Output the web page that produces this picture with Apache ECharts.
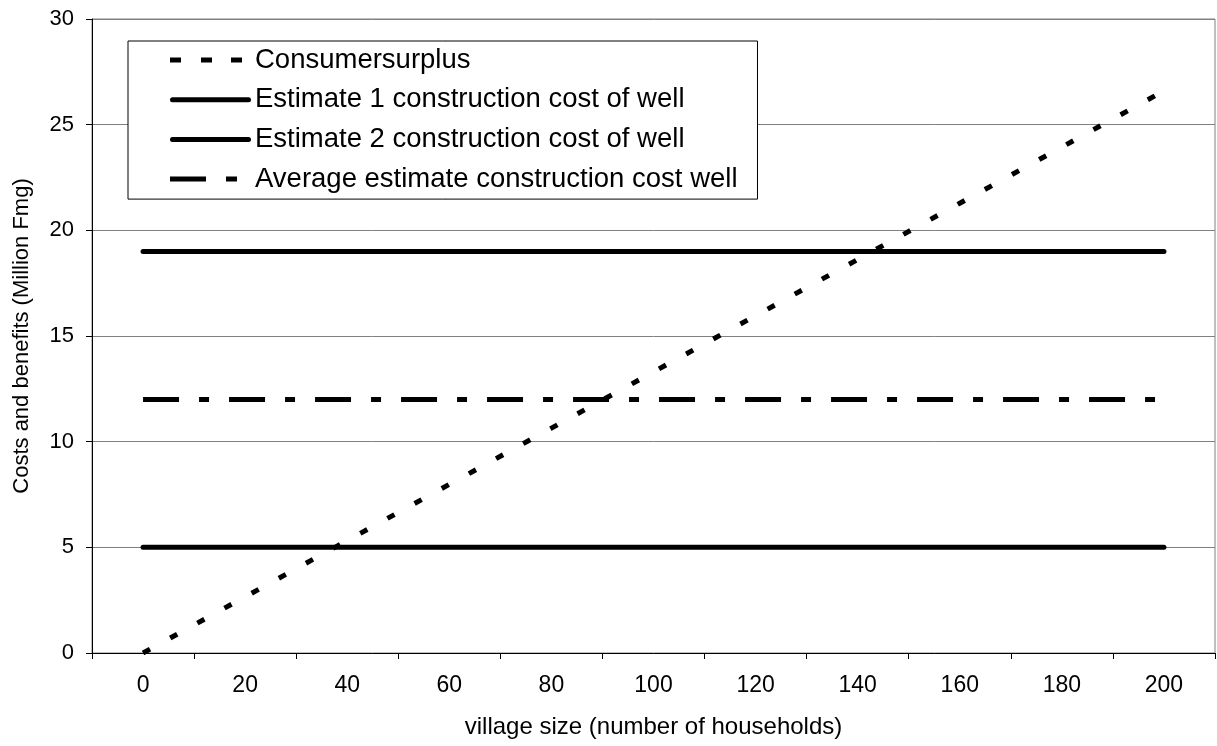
<!DOCTYPE html>
<html>
<head>
<meta charset="utf-8">
<script src="https://cdn.jsdelivr.net/npm/echarts@6/dist/echarts.min.js"></script>
<style>
html,body{margin:0;padding:0;background:#fff;}
#chart{width:1217px;height:746px;}
</style>
</head>
<body>
<div id="chart"></div>
<script>
var categories = ['0','20','40','60','80','100','120','140','160','180','200'];
var consumerSurplus = [0, 2.66, 5.32, 7.98, 10.64, 13.3, 15.96, 18.62, 21.28, 23.94, 26.6];
var estimate1 = [19, 19, 19, 19, 19, 19, 19, 19, 19, 19, 19];
var estimate2 = [5, 5, 5, 5, 5, 5, 5, 5, 5, 5, 5];
var averageEstimate = [12, 12, 12, 12, 12, 12, 12, 12, 12, 12, 12];
var seriesNames = ['Consumersurplus', 'Estimate 1 construction cost of well', 'Estimate 2 construction cost of well', 'Average estimate construction cost well'];
var xTitle = 'village size (number of households)';
var yTitle = 'Costs and benefits (Million Fmg)';

var FONT = "'Liberation Sans', Arial, sans-serif";
var chart = echarts.init(document.getElementById('chart'), null, {renderer: 'canvas'});

// legend icon shapes (81 x 5 box)
var iconDashed = 'path://M0,0h11v5h-11z M31,0h11v5h-11z M61,0h11v5h-11z M81,5';
var iconSolid = 'path://M2.5,0h76a2.5,2.5 0 0 1 0,5h-76a2.5,2.5 0 0 1 0,-5z M0,0 M81,5';
var iconDashDot = 'path://M0,0h36v5h-36z M56,0h11v5h-11z M81,5';

function lineSeries(name, data, lineStyle) {
  return {
    name: name,
    type: 'line',
    data: data,
    symbol: 'none',
    showSymbol: false,
    animation: false,
    lineStyle: lineStyle,
    itemStyle: {color: '#000'},
    emphasis: {disabled: true}
  };
}

chart.setOption({
  animation: false,
  backgroundColor: '#fff',
  textStyle: {fontFamily: FONT, color: '#000'},
  grid: {left: 92, top: 19, right: 2, bottom: 93, show: true, borderColor: '#808080', borderWidth: 1, backgroundColor: 'transparent'},
  legend: {
    orient: 'vertical',
    left: 128,
    top: 41,
    backgroundColor: '#fff',
    borderColor: '#000',
    borderWidth: 1,
    borderRadius: 0,
    padding: [5, 20, 6, 42],
    itemWidth: 81,
    itemHeight: 5,
    itemGap: 11.7,
    symbolKeepAspect: false,
    textStyle: {fontFamily: FONT, fontSize: 27.5, color: '#000', lineHeight: 27.5, padding: [0,0,0,-1]},
    selectedMode: false,
    data: [
      {name: seriesNames[0], icon: iconDashed},
      {name: seriesNames[1], icon: iconSolid},
      {name: seriesNames[2], icon: iconSolid},
      {name: seriesNames[3], icon: iconDashDot}
    ]
  },
  xAxis: {
    type: 'category',
    data: categories,
    boundaryGap: true,
    name: xTitle,
    nameLocation: 'middle',
    nameGap: 62,
    nameTextStyle: {fontFamily: FONT, fontSize: 24, color: '#000'},
    axisLine: {lineStyle: {color: '#000', width: 1}},
    axisTick: {show: true, alignWithLabel: false, length: 6, lineStyle: {color: '#000'}},
    axisLabel: {fontFamily: FONT, fontSize: 23, color: '#000', margin: 21},
    splitLine: {show: false}
  },
  yAxis: {
    type: 'value',
    min: 0,
    max: 30,
    interval: 5,
    name: yTitle,
    nameLocation: 'middle',
    nameGap: 59,
    nameTextStyle: {fontFamily: FONT, fontSize: 22, color: '#000'},
    axisLine: {show: true, lineStyle: {color: '#000', width: 1}},
    axisTick: {show: true, length: 6, lineStyle: {color: '#000'}},
    axisLabel: {fontFamily: FONT, fontSize: 22, color: '#000', margin: 18},
    splitLine: {show: true, lineStyle: {color: '#808080', width: 1}}
  },
  series: [
    lineSeries(seriesNames[0], consumerSurplus, {color: '#000', width: 5, type: [8, 23], cap: 'butt'}),
    lineSeries(seriesNames[1], estimate1, {color: '#000', width: 5, type: 'solid', cap: 'round'}),
    lineSeries(seriesNames[2], estimate2, {color: '#000', width: 5, type: 'solid', cap: 'round'}),
    lineSeries(seriesNames[3], averageEstimate, {color: '#000', width: 5, type: [36, 20, 10, 20], cap: 'butt'})
  ]
});
</script>
</body>
</html>
